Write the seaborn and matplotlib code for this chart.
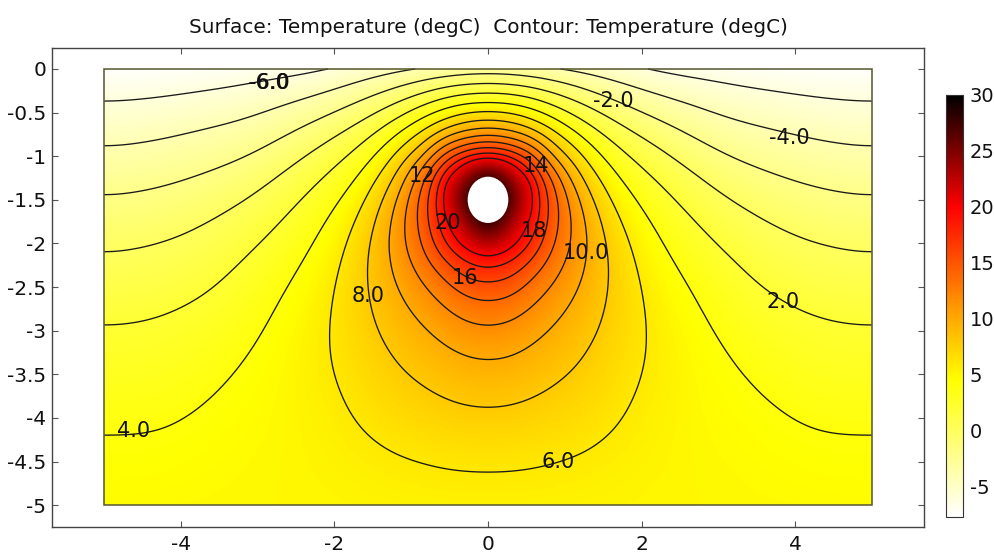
import numpy as np
import matplotlib
matplotlib.use("Agg")
import matplotlib.pyplot as plt
import matplotlib.tri as mtri
from matplotlib.colors import LinearSegmentedColormap, Normalize
from matplotlib.cm import ScalarMappable
from matplotlib.patches import Circle, Rectangle
import seaborn as sns

# depth rows and half width columns, the field is mirrored around x = 0
depth = [0, -0.2, -0.4, -0.6, -0.8, -1, -1.25, -1.5, -1.75, -2, -2.25, -2.5, -2.75, -3, -3.5, -4, -4.5, -5]
width = [0, 0.3, 0.6, 0.9, 1.15, 1.6, 2.1, 2.6, 3.1, 3.7, 4.2, 5]

# temperature, one list per column
temp_x00 = [-2.8, 0.65, 4.25, 8.1, 12.9, 19, 29, 33, 29, 23, 18.3, 15.4, 13.3, 11.6, 9.3, 7.7, 6.15, 5.3]
temp_x03 = [-3, 0.45, 4, 7.6, 12, 17.7, 24, 27, 23.5, 20.7, 17.4, 14.9, 12.9, 11.5, 9.2, 7.6, 6.12, 5.35]
temp_x06 = [-3.4, 0, 3, 6, 10, 14.6, 18.6, 19.4, 18.8, 17.5, 15.1, 12.9, 11.45, 10.4, 8.75, 7.4, 6.05, 5.35]
temp_x09 = [-3.9, -1.3, 1.6, 4.05, 6.6, 9.1, 12.9, 14.2, 14.2, 13.5, 12.5, 11.3, 10.3, 9.5, 8.15, 7, 5.9, 5.3]
temp_x12 = [-4.35, -2, 0.3, 2.55, 4.7, 6.8, 8.9, 10.6, 11.4, 11.5, 10.9, 10.1, 9.5, 8.95, 7.85, 6.9, 5.85, 5.25]
temp_x16 = [-5.15, -3.1, -1.6, 0.3, 1.85, 3, 4.4, 5.65, 6.75, 7.5, 7.9, 7.9, 7.7, 7.45, 6.8, 6.25, 5.5, 5.15]
temp_x21 = [-6.1, -4.3, -3, -1.65, 0.1, 1.15, 2.3, 3.2, 4.05, 4.6, 5.1, 5.5, 5.75, 5.9, 5.8, 5.45, 5.2, 5.05]
temp_x26 = [-6.65, -5, -3.85, -2.8, -1.85, -0.6, 0.6, 1.6, 2.35, 2.95, 3.6, 4.1, 4.45, 4.7, 5, 4.95, 5, 5]
temp_x31 = [-6.9, -5.9, -4.75, -3.7, -2.85, -2, -0.95, 0.2, 0.95, 1.75, 2.4, 2.9, 3.3, 3.7, 4.3, 4.65, 4.85, 4.9]
temp_x37 = [-7.15, -6.35, -5.3, -4.3, -3.45, -2.7, -1.8, -0.95, 0, 0.6, 1.2, 1.75, 2.35, 2.85, 3.6, 4.2, 4.65, 4.85]
temp_x42 = [-7.3, -6.6, -5.65, -4.8, -3.9, -3.2, -2.3, -1.45, -0.65, 0.1, 0.75, 1.3, 1.9, 2.35, 3.15, 3.85, 4.4, 4.8]
temp_x50 = [-7.5, -6.9, -5.9, -5.1, -4.4, -3.65, -2.75, -1.85, -1.1, -0.3, 0.35, 0.95, 1.55, 2.2, 2.95, 3.8, 4.35, 4.7]

levels = [-6, -4, -2, 0, 2, 4, 6, 8, 10, 12, 14, 16, 18, 20]
line_labels = ["-6.0", "-2.0", "-4.0", "12", "14", "20", "18", "10.0", "16", "8.0", "2.0", "4.0", "6.0"]
label_x = [-2.86, 1.63, 3.92, -0.86, 0.62, -0.53, 0.6, 1.28, -0.3, -1.56, 3.85, -4.62, 0.92]
label_y = [-0.16, -0.37, -0.79, -1.23, -1.11, -1.77, -1.86, -2.11, -2.4, -2.6, -2.67, -4.15, -4.5]

xticks = [-4, -2, 0, 2, 4]
xtick_labels = ["-4", "-2", "0", "2", "4"]
yticks = [0, -0.5, -1, -1.5, -2, -2.5, -3, -3.5, -4, -4.5, -5]
ytick_labels = ["0", "-0.5", "-1", "-1.5", "-2", "-2.5", "-3", "-3.5", "-4", "-4.5", "-5"]
cbar_ticks = [-5, 0, 5, 10, 15, 20, 25, 30]
cbar_labels = ["-5", "0", "5", "10", "15", "20", "25", "30"]

sns.set_theme(style="ticks", rc={"font.family": "DejaVu Sans", "axes.edgecolor": "#444444", "axes.linewidth": 1.0})

half = np.column_stack([temp_x00, temp_x03, temp_x06, temp_x09, temp_x12, temp_x16,
                        temp_x21, temp_x26, temp_x31, temp_x37, temp_x42, temp_x50])
x_all = np.concatenate([-np.array(width[:0:-1]), width])
field = np.hstack([half[:, :0:-1], half])
X, Y = np.meshgrid(x_all, depth)

# resample the table on a regular mesh
tri = mtri.Triangulation(X.ravel(), Y.ravel())
interp = mtri.CubicTriInterpolator(tri, field.ravel(), kind="geom")
step = 0.025
xf = np.linspace(-5, 5, 401)
yf = np.linspace(-5, 0, 201)
Xf, Yf = np.meshgrid(xf, yf)
Zf = np.ma.filled(interp(Xf, Yf), np.nan)


def blur(z, sigma):
    # gaussian blur, odd reflection on the depth axis keeps the top gradient
    n = int(3 * sigma / step)
    k = np.exp(-0.5 * (np.arange(-n, n + 1) * step / sigma) ** 2)
    k /= k.sum()
    p = np.pad(z, ((n, n), (0, 0)), mode="reflect", reflect_type="odd")
    p = np.pad(p, ((0, 0), (n, n)), mode="reflect", reflect_type="even")
    p = np.apply_along_axis(lambda a: np.convolve(a, k, mode="same"), 0, p)
    p = np.apply_along_axis(lambda a: np.convolve(a, k, mode="same"), 1, p)
    return p[n:-n, n:-n]


# hand read table is a bit noisy: little smoothing near the pipe, more further away
dist = np.hypot(Xf, Yf + 1.5)
w = np.clip((dist - 0.6) / 0.9, 0, 1)
Zs = (1 - w) * blur(Zf, 0.12) + w * blur(Zf, 0.3)

vmin, vmax = -7.7, 30


def frac(v):
    return (v - vmin) / (vmax - vmin)


cmap = LinearSegmentedColormap.from_list("heat_light", [
    (0, "#ffffff"), (frac(4.5), "#ffff00"), (frac(10), "#ffaa00"), (frac(20), "#ff0000"), (1, "#000000")])
norm = Normalize(vmin, vmax)

fig = plt.figure(figsize=(9.95, 5.54), dpi=100)
ax = fig.add_axes([52 / 995, 1 - 527 / 554, 872 / 995, 479 / 554])
ax.imshow(Zs, extent=(-5, 5, -5, 0), origin="lower", cmap=cmap, norm=norm, aspect="auto",
          interpolation="bilinear")
ax.contour(Xf, Yf, Zs, levels=levels, colors="#1a1a1a", linewidths=0.95, linestyles="solid")
ax.add_patch(Circle((0, -1.5), 0.265, facecolor="white", edgecolor="none", zorder=3))
ax.add_patch(Rectangle((-5, -5), 10, 5, fill=False, edgecolor="#555533", linewidth=1.1, zorder=3))

for txt, lx, ly in zip(line_labels, label_x, label_y):
    ax.text(lx, ly, txt, fontsize=15, ha="center", va="center", color="#111111", zorder=4)
# this label is drawn twice in the picture
ax.text(label_x[0] + 0.012, label_y[0], line_labels[0], fontsize=15, ha="center", va="center",
        color="#111111", zorder=4)

ax.set_xlim(-5.68, 5.68)
ax.set_ylim(-5.25, 0.24)
ax.set_xticks(xticks)
ax.set_xticklabels(xtick_labels)
ax.set_yticks(yticks)
ax.set_yticklabels(ytick_labels)
ax.tick_params(direction="in", top=True, right=True, length=4, width=0.8, color="#555555",
               labelsize=14.5, labelcolor="#111111")
ax.tick_params(axis="x", pad=6)
ax.tick_params(axis="y", pad=4)
ax.set_title("Surface: Temperature (degC)  Contour: Temperature (degC)", fontsize=14.4, pad=11, color="#111111")

cax = fig.add_axes([946.5 / 995, 1 - 517 / 554, 16.5 / 995, 422 / 554])
cbar = fig.colorbar(ScalarMappable(norm=norm, cmap=cmap), cax=cax)
cbar.set_ticks(cbar_ticks)
cbar.set_ticklabels(cbar_labels)
cbar.ax.tick_params(direction="in", left=True, right=True, length=2.5, width=0.8,
                    labelsize=14, pad=5, labelcolor="#111111", color="#333333")
cbar.outline.set_edgecolor("#333333")
cbar.outline.set_linewidth(0.8)

fig.savefig("out.png", dpi=100)
